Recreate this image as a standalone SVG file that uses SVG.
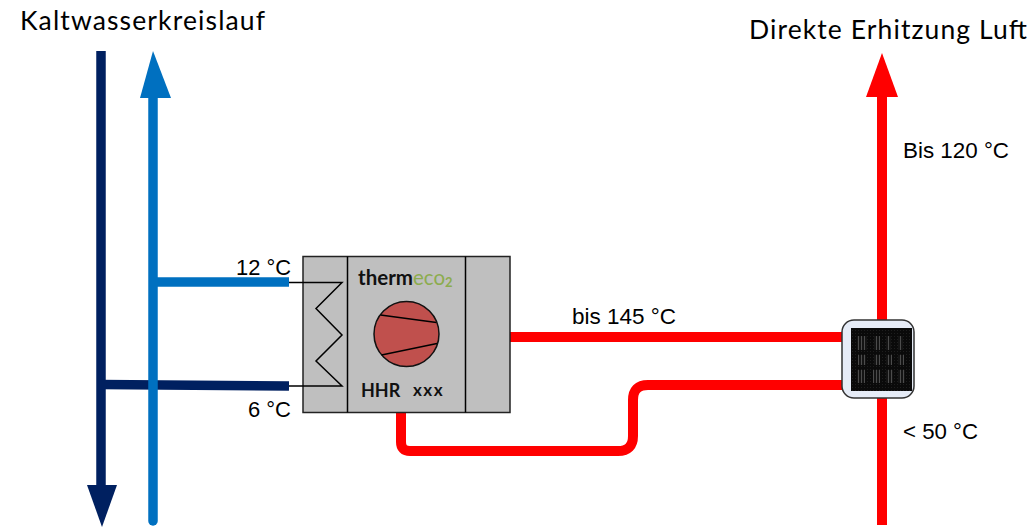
<svg xmlns="http://www.w3.org/2000/svg" width="1034" height="527" viewBox="0 0 1034 527">
<style>
.sans{font-family:"Liberation Sans",Arial,sans-serif;font-size:22px;fill:#000}
.head{font-family:Lato,"Open Sans",sans-serif;font-size:26.500px;fill:#000}
.brand{font-family:Lato,"Open Sans",sans-serif;font-weight:700;fill:#111}
.pipe{fill:none;stroke-linejoin:round}
.red{stroke:#ff0000;stroke-width:10}
.navy{stroke:#002060;stroke-width:9.5}
.blue{stroke:#0070c0;stroke-width:9.5}
.ln{fill:none;stroke:#000;stroke-width:1.5}
.bar{fill:url(#stripe)}
</style>
<defs>
<pattern id="chip" width="3" height="3" patternUnits="userSpaceOnUse"><rect width="3" height="3" fill="#0a0a0a"/><rect width="1" height="1" fill="#1e1e1e"/></pattern>
<pattern id="stripe" width="3" height="2" patternUnits="userSpaceOnUse"><rect width="3" height="2" fill="#141414"/><rect width="1" height="2" fill="#4c4c4c"/></pattern>
</defs>
<g id="connectors">
<path class="pipe navy" d="M101 51V490"/>
<polygon points="102,527 117,485 87,485" fill="#002060"/>
<path class="pipe navy" d="M101 384.500L289 386"/>
<path class="pipe blue" d="M153 282H289"/>
<path class="pipe blue" d="M153 97V521" stroke-linecap="round"/>
<polygon points="153,51 171,98 140,98" fill="#0070c0"/>
<path class="pipe red" d="M882 96V320M882 398V525"/>
<polygon points="882,53 898,97 866,97" fill="#ff0000"/>
<path class="pipe red" d="M510 337H842"/>
<path class="pipe red" d="M401 412V442Q401 451 410 451H618Q633 451 633 436V400Q633 385 648 385H842"/>
</g>
<g id="hhr">
<rect x="303" y="256.500" width="207" height="156" fill="#bfbfbf" stroke="#222" stroke-width="1.500"/>
<path class="ln" d="M347.500 256.500V412.500M465.500 256.500V412.500"/>
<path class="ln" d="M289 282.500H342L316 308.500L342 335L316 361L342 386H289"/>
<circle cx="406.500" cy="334" r="32.500" fill="#c0504d" stroke="#111" stroke-width="1.500"/>
<path class="ln" d="M380.500 315L436.500 322.500M381.500 355L437 343.500"/>
<text class="brand" x="358" y="285" font-size="20.500">therm<tspan fill="#8cac4e" font-weight="400">eco</tspan><tspan fill="#8cac4e" font-size="13" dy="2">2</tspan></text>
<text class="brand" x="361" y="397" font-size="18">HHR</text>
<text class="brand" x="413" y="396" font-size="17" letter-spacing="1.500">xxx</text>
</g>
<g id="device">
<rect x="842" y="320" width="72" height="78" rx="12" fill="#e6ecf7" stroke="#333" stroke-width="1.500"/>
<rect x="851" y="328" width="61" height="63" fill="url(#chip)"/>
<rect class="bar" x="857" y="336" width="10" height="14"/><rect class="bar" x="874" y="336" width="6" height="14"/><rect class="bar" x="886" y="336" width="5" height="14"/><rect class="bar" x="898" y="336" width="5" height="14"/>
<rect class="bar" x="858" y="355" width="8" height="10"/><rect class="bar" x="874" y="355" width="6" height="10"/><rect class="bar" x="886" y="355" width="6" height="10"/><rect class="bar" x="898" y="355" width="6" height="10"/>
<rect class="bar" x="857" y="370" width="8" height="13"/><rect class="bar" x="873" y="370" width="7" height="13"/><rect class="bar" x="886" y="370" width="7" height="13"/><rect class="bar" x="898" y="370" width="7" height="13"/>
</g>
<g id="labels">
<text class="head" x="20" y="30" textLength="245" lengthAdjust="spacing">Kaltwasserkreislauf</text>
<text class="head" x="749" y="39" textLength="278" lengthAdjust="spacing">Direkte Erhitzung Luft</text>
<text class="sans" x="903" y="158" textLength="106" lengthAdjust="spacingAndGlyphs">Bis 120 °C</text>
<text class="sans" x="903" y="439" textLength="75" lengthAdjust="spacingAndGlyphs">&lt; 50 °C</text>
<text class="sans" x="572" y="324" textLength="104" lengthAdjust="spacingAndGlyphs">bis 145 °C</text>
<text class="sans" x="236" y="275" textLength="55" lengthAdjust="spacingAndGlyphs">12 °C</text>
<text class="sans" x="248" y="417" textLength="43" lengthAdjust="spacingAndGlyphs">6 °C</text>
</g>
</svg>
